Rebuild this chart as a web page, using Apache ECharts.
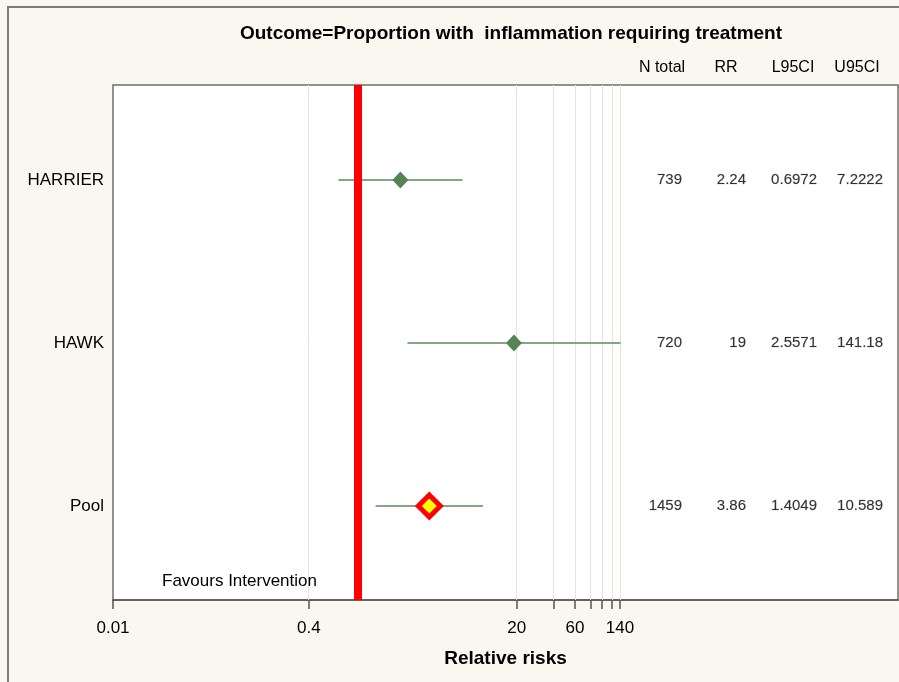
<!DOCTYPE html>
<html>
<head>
<meta charset="utf-8">
<script src="https://cdn.jsdelivr.net/npm/echarts@6/dist/echarts.min.js"></script>
<style>
html,body{margin:0;padding:0;background:#FAF7F0;}
#chart{width:899px;height:682px;}
</style>
</head>
<body>
<div id="chart"></div>
<script>
// ---- data ----
const studies = ["HARRIER", "HAWK", "Pool"];
const nTotal = [739, 720, 1459];
const rr = [2.24, 19, 3.86];
const l95 = [0.6972, 2.5571, 1.4049];
const u95 = [7.2222, 141.18, 10.589];
const isPooled = [false, false, true];
const tickLabelValues = [0.01, 0.4, 20, 60, 140];
const tickMarkValues = [0.01, 0.4, 20, 40, 60, 80, 100, 120, 140];
const gridLineValues = [0.4, 20, 40, 60, 80, 100, 120, 140];
const refValue = 1;
const xMinValue = 0.01;
const xMaxValue = 26240;
const tableHeaders = ["N total", "RR", "L95CI", "U95CI"];
const tableColumns = [nTotal, rr, l95, u95];

// ---- layout ----
const lg = v => Math.log10(v);
const rowPos = studies.map((_, i) => i + 1);
const colRight = [569, 633, 704, 770];      // px offsets from plot left
const headerCenters = [662, 726, 793, 857];
const plotLeft = 113, plotRight = 898;
const FONT = '"Liberation Sans", Arial, sans-serif';

const chart = echarts.init(document.getElementById('chart'), null, {renderer: 'canvas'});

const tickLogs = tickLabelValues.map(lg);
const fmt = v => {
  const i = tickLogs.findIndex(t => Math.abs(t - v) < 1e-6);
  return i >= 0 ? String(tickLabelValues[i]) : '';
};

const series = [];
// grid lines
series.push({
  type: 'scatter', data: [], xAxisIndex: 0, yAxisIndex: 0, silent: true, z: 1,
  markLine: {
    silent: true, symbol: 'none', label: {show: false}, z: 1,
    lineStyle: {color: '#E6E4DA', width: 1, type: 'solid'},
    data: gridLineValues.map(v => ({xAxis: lg(v)}))
  }
});
// CI lines
series.push({
  type: 'custom', z: 2, xAxisIndex: 0, yAxisIndex: 0, silent: true,
  data: studies.map((s, i) => [lg(l95[i]), lg(u95[i]), rowPos[i]]),
  renderItem: (params, api) => {
    const a = api.coord([api.value(0), api.value(2)]);
    const b = api.coord([api.value(1), api.value(2)]);
    return {type: 'line', shape: {x1: a[0], y1: a[1], x2: b[0], y2: b[1]},
      style: {stroke: '#5A895A', lineWidth: 1.5}};
  }
});
// reference line
series.push({
  type: 'scatter', data: [], xAxisIndex: 0, yAxisIndex: 0, silent: true, z: 3,
  markLine: {
    silent: true, symbol: 'none', label: {show: false}, z: 3,
    lineStyle: {color: '#FF0000', width: 8, type: 'solid'},
    data: [{xAxis: lg(refValue)}]
  }
});
// study diamonds
series.push({
  type: 'scatter', z: 4, symbol: 'diamond', symbolSize: [16, 17],
  itemStyle: {color: '#548454', opacity: 1},
  data: studies.map((s, i) => isPooled[i] ? null : [lg(rr[i]), rowPos[i]]).filter(d => d)
});
// pooled diamond
series.push({
  type: 'scatter', z: 5, symbol: 'diamond', symbolSize: 22,
  itemStyle: {color: '#FFFF00', borderColor: '#FF0000', borderWidth: 5, opacity: 1},
  data: studies.map((s, i) => isPooled[i] ? [lg(rr[i]), rowPos[i]] : null).filter(d => d)
});
// table columns
tableColumns.forEach((col, c) => {
  series.push({
    type: 'scatter', xAxisIndex: 1, yAxisIndex: 0, symbolSize: 0, silent: true, z: 6,
    data: col.map((v, i) => [colRight[c], rowPos[i], String(v)]),
    label: {
      show: true, position: 'left', distance: 0,
      formatter: p => p.data[2],
      fontFamily: FONT, fontSize: 15, color: '#000',
      textBorderColor: 'rgba(0,0,0,0.35)', textBorderWidth: 0.4
    }
  });
});

const graphics = [
  {type: 'rect', shape: {x: 8, y: 7, width: 1000, height: 1000}, style: {fill: 'none', stroke: '#7A7A76', lineWidth: 2}, z: 100},
  {type: 'text', x: 162, y: 581, style: {text: 'Favours Intervention', font: '17px ' + FONT, fill: '#000', textVerticalAlign: 'middle'}, z: 100}
];
tableHeaders.forEach((h, c) => {
  graphics.push({type: 'text', x: headerCenters[c], y: 68, style: {text: h, font: '16px ' + FONT, fill: '#000', textAlign: 'center', textVerticalAlign: 'middle'}, z: 100});
});

chart.setOption({
  backgroundColor: '#FAF7F0',
  animation: false,
  title: {
    text: 'Outcome=Proportion with  inflammation requiring treatment',
    left: 506, top: 19, textAlign: 'center',
    textStyle: {fontFamily: FONT, fontSize: 19, fontWeight: 'bold', color: '#000'}
  },
  grid: {left: plotLeft, right: 899 - plotRight, top: 85, bottom: 82, show: true,
    backgroundColor: '#FFFFFF', borderColor: '#6E6E68', borderWidth: 1.5},
  xAxis: [{
    type: 'value', min: lg(xMinValue), max: lg(xMaxValue),
    name: 'Relative risks', nameLocation: 'middle', nameGap: 49,
    nameTextStyle: {fontFamily: FONT, fontSize: 19, fontWeight: 'bold', color: '#000'},
    axisLine: {show: true, lineStyle: {color: '#555550', width: 1.5}},
    axisTick: {show: true, length: 9, customValues: tickMarkValues.map(lg), lineStyle: {color: '#555550', width: 1.5}},
    axisLabel: {customValues: tickLogs, formatter: fmt, fontFamily: FONT, fontSize: 17, color: '#000', margin: 20},
    splitLine: {show: false}
  }, {
    type: 'value', min: 0, max: plotRight - plotLeft, show: false
  }],
  yAxis: {
    type: 'value', min: 0.417, max: 3.577, inverse: true,
    axisLine: {show: false}, axisTick: {show: false}, splitLine: {show: false},
    axisLabel: {customValues: rowPos, formatter: v => studies[Math.round(v) - 1] || '',
      fontFamily: FONT, fontSize: 17, color: '#000', margin: 9}
  },
  graphic: graphics,
  series: series
});
</script>
</body>
</html>
